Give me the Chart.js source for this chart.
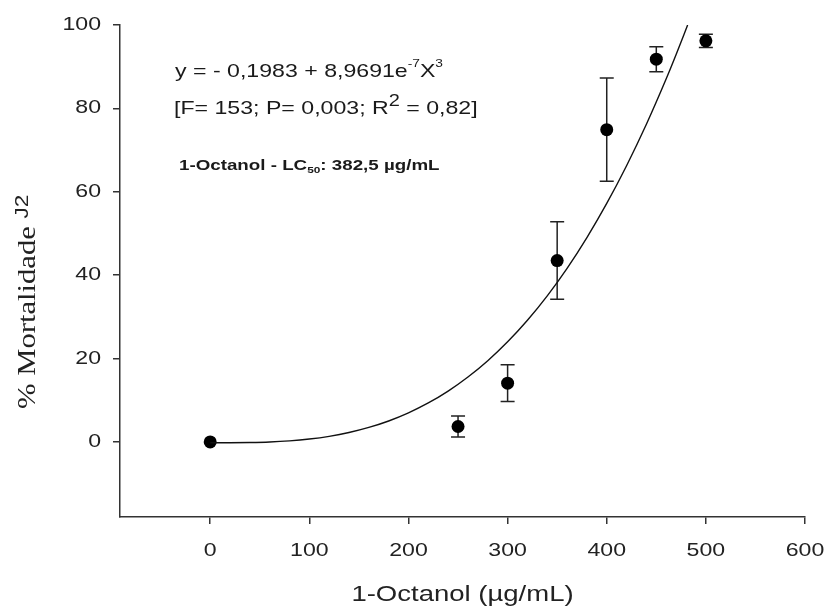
<!DOCTYPE html>
<html><head><meta charset="utf-8">
<script src="https://cdn.jsdelivr.net/npm/chart.js@4/dist/chart.umd.min.js"></script>
<style>html,body{margin:0;padding:0;background:#fff;}#c{display:block;}</style>
</head><body>
<canvas id="c" width="826" height="608" style="width:826px;height:608px"></canvas>
<script>
// ---- data ----
const concentrations = [0, 250, 300, 350, 400, 450, 500];
const mortality      = [0, 3.7, 14.1, 43.5, 74.9, 91.8, 96.2];
const mortalityErr   = [0, 2.5, 4.4, 9.3, 12.4, 3.0, 1.6];
// fitted curve y = -0.1983 + 8.9691e-7 x^3 (points along the drawn line)
const fitX = [0, 20, 40, 60, 80, 100, 120, 140, 160, 180, 200, 220, 240, 260, 280, 300, 320, 340, 360, 380, 400, 420, 440, 460, 470, 481.6];
const fitY = [-0.20, -0.19, -0.14, -0.01, 0.26, 0.70, 1.35, 2.26, 3.48, 5.03, 6.98, 9.35, 12.20, 15.57, 19.49, 24.02, 29.19, 35.05, 41.65, 49.02, 57.20, 66.25, 76.20, 87.10, 92.92, 100.0];
const xTicks = [0, 100, 200, 300, 400, 500, 600];
const yTicks = [0, 20, 40, 60, 80, 100];

const SX = 1.25; // wide text rendering as in the reference
const canvas = document.getElementById('c');
const ctx0 = canvas.getContext('2d');
const origFill = ctx0.fillText.bind(ctx0);
ctx0.fillText = function (t, x, y) {
  ctx0.save(); ctx0.translate(x, y); ctx0.scale(SX, 1); origFill(t, 0, 0); ctx0.restore();
};

function drawRuns(ctx, runs, x, y) {
  let cx = x;
  for (const r of runs) {
    ctx.font = r.font;
    ctx.fillText(r.text, cx, y + (r.dy || 0));
    cx += ctx.measureText(r.text).width * SX;
  }
}

const errorBars = {
  id: 'errorBars',
  beforeDatasetsDraw(chart) {
    const { ctx, scales: { x, y } } = chart;
    ctx.save();
    ctx.strokeStyle = '#222'; ctx.lineWidth = 1.5;
    concentrations.forEach((c, i) => {
      const e = mortalityErr[i]; if (!e) return;
      const px = x.getPixelForValue(c);
      const t = y.getPixelForValue(mortality[i] + e), b = y.getPixelForValue(mortality[i] - e);
      ctx.beginPath();
      ctx.moveTo(px, t); ctx.lineTo(px, b);
      ctx.moveTo(px - 7, t); ctx.lineTo(px + 7, t);
      ctx.moveTo(px - 7, b); ctx.lineTo(px + 7, b);
      ctx.stroke();
    });
    ctx.restore();
  }
};

const annotations = {
  id: 'annotations',
  afterDraw(chart) {
    const ctx = chart.ctx;
    ctx.save();
    ctx.textAlign = 'left'; ctx.textBaseline = 'alphabetic'; ctx.fillStyle = '#1a1a1a';
    const S = '"Liberation Sans", Arial, sans-serif';
    drawRuns(ctx, [
      { text: 'y = - 0,1983 + 8,9691e', font: '18.5px ' + S },
      { text: '-7', font: '11px ' + S, dy: -10 },
      { text: 'X', font: '18.5px ' + S },
      { text: '3', font: '11px ' + S, dy: -10 }
    ], 175, 77);
    drawRuns(ctx, [
      { text: '[F= 153; P= 0,003; R', font: '18.5px ' + S },
      { text: '2', font: '16px ' + S, dy: -8 },
      { text: ' = 0,82]', font: '18.5px ' + S }
    ], 174, 114);
    drawRuns(ctx, [
      { text: '1-Octanol - LC', font: 'bold 15px ' + S },
      { text: '50', font: 'bold 9.5px ' + S, dy: 3 },
      { text: ': 382,5 µg/mL', font: 'bold 15px ' + S }
    ], 179, 170);
    // y axis title
    ctx.translate(35, 409);
    ctx.rotate(-Math.PI / 2);
    ctx.fillStyle = '#222';
    drawRuns(ctx, [
      { text: '% Mortalidade ', font: '24.5px "Liberation Serif", "Times New Roman", serif' },
      { text: 'J', font: '18px ' + S, dy: -7 },
      { text: '2', font: '18px ' + S, dy: -7 }
    ], 0, 0);
    ctx.restore();
  }
};

const tickFont = { family: '"Liberation Sans", Arial, sans-serif', size: 18.5 };

new Chart(canvas, {
  type: 'scatter',
  data: {
    datasets: [
      {
        type: 'line',
        data: fitX.map((v, i) => ({ x: v, y: fitY[i] })),
        borderColor: '#111', borderWidth: 1.4,
        pointRadius: 0, fill: false, tension: 0, cubicInterpolationMode: 'monotone'
      },
      {
        data: concentrations.map((v, i) => ({ x: v, y: mortality[i] })),
        backgroundColor: '#000', borderColor: '#000', borderWidth: 0,
        pointRadius: 6.5, pointHoverRadius: 6.5
      }
    ]
  },
  options: {
    responsive: false, animation: false, devicePixelRatio: 1,
    layout: { padding: { top: 25, right: 21, bottom: 0, left: 0 } },
    plugins: { legend: { display: false }, tooltip: { enabled: false } },
    scales: {
      x: {
        type: 'linear', min: -91, max: 600,
        afterBuildTicks: s => { s.ticks = xTicks.map(v => ({ value: v })); },
        afterFit: s => { s.height = 91; s.paddingLeft = 0; s.paddingRight = 0; },
        grid: { display: true, drawOnChartArea: false, drawTicks: true, tickLength: 7, color: '#333', lineWidth: 1.5 },
        border: { display: true, color: '#333', width: 1.5 },
        ticks: { font: tickFont, color: '#222', padding: 16, maxRotation: 0, autoSkip: false },
        title: { display: true, text: '1-Octanol (µg/mL)', color: '#222',
                 font: { family: '"Liberation Sans", Arial, sans-serif', size: 22 }, padding: { top: 0, bottom: 0 } }
      },
      y: {
        type: 'linear', min: -18, max: 100,
        afterBuildTicks: s => { s.ticks = yTicks.map(v => ({ value: v })); },
        afterFit: s => { s.width = 120; s.paddingTop = 0; s.paddingBottom = 0; },
        grid: { display: true, drawOnChartArea: false, drawTicks: true, tickLength: 7, color: '#333', lineWidth: 1.5 },
        border: { display: true, color: '#333', width: 1.5 },
        ticks: { font: tickFont, color: '#222', padding: 12 }
      }
    }
  },
  plugins: [errorBars, annotations]
});
</script>
</body></html>
